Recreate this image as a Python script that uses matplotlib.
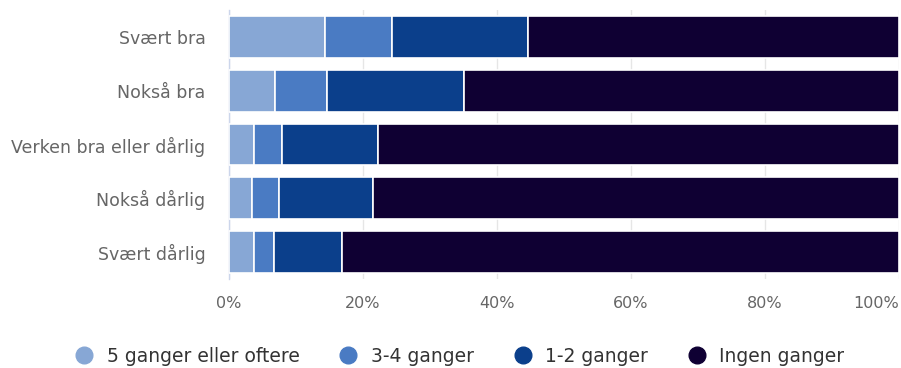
import matplotlib
matplotlib.use("Agg")
import matplotlib.pyplot as plt
from matplotlib.lines import Line2D
import numpy as np

categories = ["Svært bra", "Nokså bra", "Verken bra eller dårlig", "Nokså dårlig", "Svært dårlig"]
series_names = ["5 ganger eller oftere", "3-4 ganger", "1-2 ganger", "Ingen ganger"]
s5plus = [14.4, 6.9, 3.7, 3.4, 3.7]
s34 = [9.9, 7.7, 4.2, 4.0, 3.0]
s12 = [20.4, 20.5, 14.3, 14.1, 10.1]
s0 = [55.3, 64.9, 77.8, 78.5, 83.2]
colors = ["#87a7d5", "#4a7bc3", "#0b3f8b", "#0f0033"]
xticks = [0, 20, 40, 60, 80, 100]

plt.rcParams['font.family'] = ['DejaVu Sans']
fig = plt.figure(figsize=(9.01, 3.68), dpi=100)
ax = fig.add_axes([229/901, 1-279/368, 670/901, 269/368])

y = np.arange(len(categories))
left = np.zeros(len(categories))
for vals, c, name in zip([s5plus, s34, s12, s0], colors, series_names):
    ax.barh(y, vals, left=left, height=0.78, color=c, edgecolor="white", linewidth=1.2, label=name, zorder=3)
    left += np.array(vals)

ax.set_xlim(0, 100)
ax.set_ylim(len(categories) - 0.5, -0.5)
ax.set_yticks(y)
ax.set_yticklabels(categories, fontsize=12.5, color="#666666")
ax.set_xticks(xticks)
labels = ax.set_xticklabels([f"{t}%" for t in xticks], fontsize=11.5, color="#666666")
labels[-1].set_horizontalalignment("right")
ax.tick_params(axis="y", length=0, pad=17)
ax.tick_params(axis="x", length=0, pad=12)
ax.grid(axis="x", color="#e6e6e6", linewidth=1, zorder=0)
for s in ["top", "right", "bottom"]:
    ax.spines[s].set_visible(False)
ax.spines["left"].set_color("#ccd6eb")
ax.spines["left"].set_linewidth(1)

handles = [Line2D([0], [0], marker="o", linestyle="none", markersize=12,
                  markerfacecolor=c, markeredgecolor=c) for c in colors]
fig.legend(handles, series_names, loc="center", bbox_to_anchor=(455/901, 1-356/368),
           ncol=4, frameon=False, fontsize=13.5, handletextpad=0.2, columnspacing=1.6,
           labelcolor="#333333")

fig.savefig("out.png", dpi=100)
